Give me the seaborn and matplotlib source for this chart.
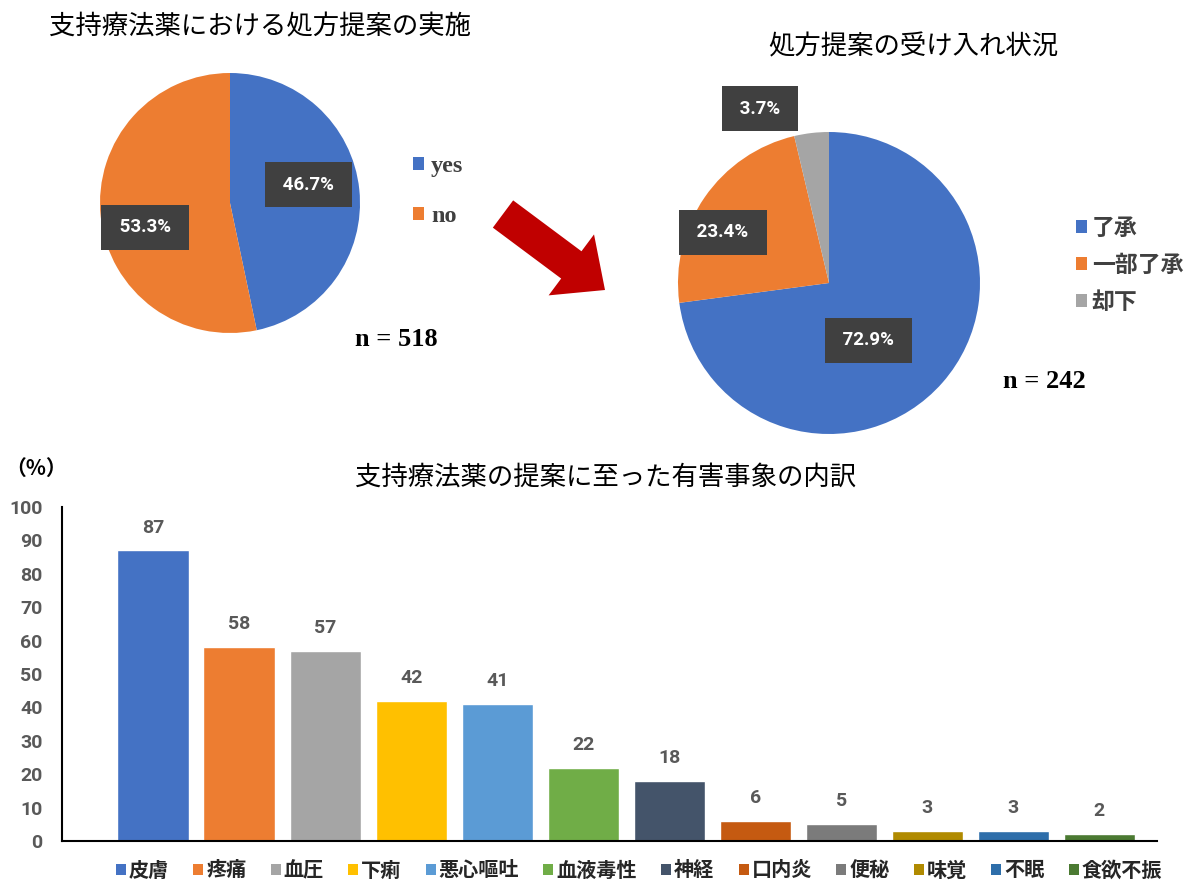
import numpy as np
import pandas as pd
import matplotlib
matplotlib.use("Agg")
import matplotlib.pyplot as plt
import seaborn as sns
from matplotlib.patches import Patch, FancyArrow
from matplotlib.transforms import IdentityTransform

# ---- data -------------------------------------------------------------
impl_title = "支持療法薬における処方提案の実施"
impl_labels = ["yes", "no"]
impl_values = [46.7, 53.3]
impl_n = "n = 518"

accept_title = "処方提案の受け入れ状況"
accept_labels = ["了承", "一部了承", "却下"]
accept_values = [72.9, 23.4, 3.7]
accept_n = "n = 242"

ae_title = "支持療法薬の提案に至った有害事象の内訳"
ae_labels = ["皮膚", "疼痛", "血圧", "下痢", "悪心嘔吐", "血液毒性",
             "神経", "口内炎", "便秘", "味覚", "不眠", "食欲不振"]
ae_values = [87, 58, 57, 42, 41, 22, 18, 6, 5, 3, 3, 2]
y_ticks = list(range(0, 101, 10))

# ---- style ------------------------------------------------------------
impl_colors = ["#4472C4", "#ED7D31"]
accept_colors = ["#4472C4", "#ED7D31", "#A5A5A5"]
ae_colors = ["#4472C4", "#ED7D31", "#A5A5A5", "#FFC000", "#5B9BD5", "#70AD47",
             "#44546A", "#C55A11", "#7B7B7B", "#B08A00", "#2E6EAA", "#4B7A32"]

sns.set_theme(style="white")
plt.rcParams["font.family"] = ["Noto Sans CJK JP", "DejaVu Sans"]

W, H, DPI = 1192, 883, 100
fig = plt.figure(figsize=(W / DPI, H / DPI), dpi=DPI)
fig.patch.set_facecolor("white")


def px_axes(x0, y0, x1, y1):
    """Axes placed by pixel box (top-left origin)."""
    return fig.add_axes([x0 / W, 1 - y1 / H, (x1 - x0) / W, (y1 - y0) / H])


def fx(x):
    return x / W


def fy(y):
    return 1 - y / H


LABEL_BOX = dict(boxstyle="square,pad=0.72", fc="#404040", ec="none")


def draw_pie(ax, values, colors, label_offsets):
    wedges, _ = ax.pie(values, colors=colors, startangle=90, counterclock=False,
                       radius=1, wedgeprops=dict(linewidth=0))
    ax.set_xlim(-1, 1)
    ax.set_ylim(-1, 1)
    ax.set_aspect("equal")
    for w, v, (r, dang) in zip(wedges, values, label_offsets):
        ang = np.deg2rad((w.theta1 + w.theta2) / 2 + dang)
        ax.text(r * np.cos(ang), r * np.sin(ang), f" {v:.1f}% ",
                ha="center", va="center", color="white", fontsize=13.5,
                fontweight="bold", family=["Roboto", "DejaVu Sans"],
                bbox=LABEL_BOX, clip_on=False, zorder=5)
    return wedges


# ---- pie 1 ------------------------------------------------------------
ax1 = px_axes(100, 73, 360, 333)
w1 = draw_pie(ax1, impl_values, impl_colors, [(0.62, 7), (0.68, 10)])
fig.text(fx(260), fy(27), impl_title, ha="center", va="center", fontsize=19, color="black")
fig.legend(w1, impl_labels, loc="upper left", bbox_to_anchor=(fx(391), fy(134)),
           frameon=False, handlelength=0.45, handleheight=0.45, handletextpad=0.3,
           labelspacing=1.2, prop=dict(family="Liberation Serif", weight="bold", size=17.5),
           labelcolor="#404040")
fig.text(fx(355), fy(340), impl_n, ha="left", va="center", fontsize=19,
         fontweight="bold", family="Liberation Serif", color="black",
         bbox=dict(boxstyle="square,pad=1.2", fc="white", ec="none"), zorder=10)

# ---- pie 2 ------------------------------------------------------------
ax2 = px_axes(678, 132, 980, 434)
w2 = draw_pie(ax2, accept_values, accept_colors, [(0.46, -14), (0.78, 9), (1.24, 15)])
fig.text(fx(913), fy(47), accept_title, ha="center", va="center", fontsize=19, color="black")
fig.legend(w2, accept_labels, loc="upper left", bbox_to_anchor=(fx(1055), fy(196)),
           frameon=False, handlelength=0.5, handleheight=0.5, handletextpad=0.2,
           labelspacing=0.62, prop=dict(weight="bold", size=16.5), labelcolor="#404040")
fig.text(fx(1003), fy(381), accept_n, ha="left", va="center", fontsize=19,
         fontweight="bold", family="Liberation Serif", color="black",
         bbox=dict(boxstyle="square,pad=1.2", fc="white", ec="none"), zorder=10)

# ---- arrow between the pies --------------------------------------------
tail = np.array([503.0, H - 214.0])
tip = np.array([605.0, H - 290.0])
arrow = FancyArrow(tail[0], tail[1], *(tip - tail), width=34, head_width=76,
                   head_length=42, length_includes_head=True,
                   transform=IdentityTransform(), color="#C00000", lw=0)
fig.add_artist(arrow)

# ---- bar chart --------------------------------------------------------
ax3 = px_axes(62, 507, 1157, 841)
df = pd.DataFrame({"event": ae_labels, "pct": ae_values})
sns.barplot(data=df, x="event", y="pct", hue="event", palette=ae_colors,
            width=0.83, saturation=1, legend=False, ax=ax3)
ax3.set_xlim(-1.06, 11.67)
ax3.set_ylim(0, 100)
ax3.set_yticks(y_ticks)
ax3.set_yticklabels([str(t) for t in y_ticks], fontsize=14, fontweight="bold",
                    color="#595959", family=["Roboto", "DejaVu Sans"])
ax3.set_xticks([])
ax3.set_xlabel("")
ax3.set_ylabel("")
ax3.tick_params(axis="y", length=0, pad=14)
for side in ("top", "right"):
    ax3.spines[side].set_visible(False)
for side in ("left", "bottom"):
    ax3.spines[side].set_color("black")
    ax3.spines[side].set_linewidth(1.5)
for cont in ax3.containers:
    ax3.bar_label(cont, padding=10, fontsize=14, fontweight="bold", color="#595959",
                  family=["Roboto", "DejaVu Sans"])

fig.text(fx(606), fy(477), ae_title, ha="center", va="center", fontsize=19, color="black")
fig.text(fx(36), fy(468), "（%）", ha="center", va="center", fontsize=15,
         fontweight="bold", color="black")

handles = [Patch(facecolor=c, edgecolor="none") for c in ae_colors]
fig.legend(handles, ae_labels, loc="center", bbox_to_anchor=(fx(639), fy(870)),
           ncol=len(ae_labels), frameon=False, handlelength=0.5, handleheight=0.5,
           handletextpad=0.15, columnspacing=1.2, prop=dict(weight="bold", size=14.5))

fig.savefig("out.png", dpi=DPI, facecolor="white")
